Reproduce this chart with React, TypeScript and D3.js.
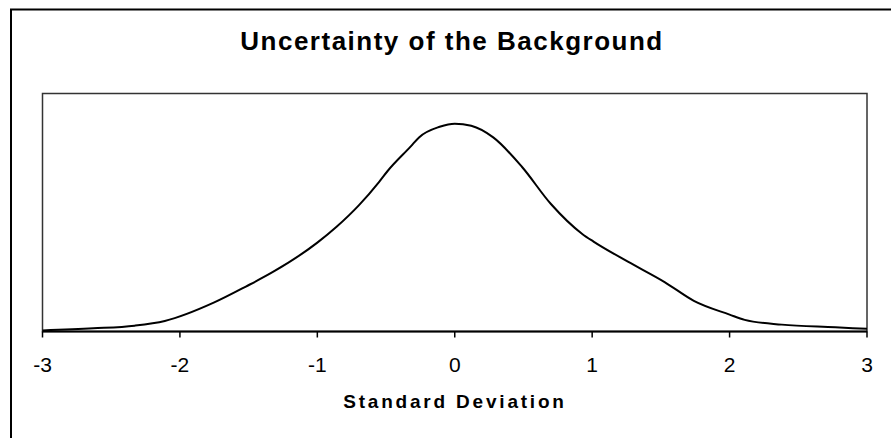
import React from "react";
import * as d3 from "d3";

const title = "Uncertainty of the Background";
const xAxisTitle = "Standard Deviation";
const xTicks = [-3, -2, -1, 0, 1, 2, 3];

// standard deviation positions and relative frequency values
const sd = [-3, -2.63, -2.33, -2.11, -1.75, -1.52, -1.32, -1.0, -0.86, -0.7, -0.55, -0.49, -0.32, -0.26, -0.11, 0, 0.12, 0.28, 0.49, 0.7, 0.93, 1.01, 1.26, 1.53, 1.74, 2.0, 2.11, 2.38, 2.77, 3.0];
const freq = [0.002, 0.006, 0.011, 0.020, 0.055, 0.085, 0.113, 0.168, 0.198, 0.238, 0.283, 0.303, 0.350, 0.367, 0.387, 0.393, 0.389, 0.367, 0.311, 0.241, 0.184, 0.170, 0.132, 0.093, 0.058, 0.032, 0.022, 0.013, 0.008, 0.005];

const W = 891;
const H = 438;
const plot = { left: 42.5, right: 867, top: 93.5, bottom: 331.5 };

export default function App() {
  const x = d3.scaleLinear().domain([-3, 3]).range([plot.left, plot.right]);
  const y = d3.scaleLinear().domain([0, 0.45]).range([plot.bottom, plot.top]);
  const pts = sd.map((v, i) => [v, freq[i]] as [number, number]);
  const line = d3
    .line<[number, number]>()
    .x((d) => x(d[0]))
    .y((d) => y(d[1]))
    .curve(d3.curveMonotoneX);

  const font = "'Liberation Sans', Arial, Helvetica, sans-serif";

  return (
    <svg
      width={W}
      height={H}
      style={{ position: "absolute", left: 0, top: 0, background: "#fff" }}
    >
      <rect x={0} y={0} width={W} height={H} fill="#fff" />
      {/* outer chart border */}
      <rect x={11} y={9.5} width={900} height={450} fill="none" stroke="#000" strokeWidth={2} />
      {/* plot frame */}
      <rect
        x={plot.left}
        y={plot.top}
        width={plot.right - plot.left}
        height={plot.bottom - plot.top}
        fill="none"
        stroke="#333"
        strokeWidth={1.5}
      />
      {/* x axis */}
      <line x1={plot.left} x2={plot.right} y1={plot.bottom} y2={plot.bottom} stroke="#000" strokeWidth={2} />
      {xTicks.map((t) => (
        <g key={t}>
          <line x1={x(t)} x2={x(t)} y1={plot.bottom} y2={plot.bottom + 6} stroke="#000" strokeWidth={1.5} />
          <text
            x={x(t)}
            y={372}
            textAnchor="middle"
            fontFamily={font}
            fontSize={21}
            fill="#000"
          >
            {t}
          </text>
        </g>
      ))}
      <path d={line(pts) || ""} fill="none" stroke="#000" strokeWidth={2} strokeLinejoin="round" />
      <text
        x={452}
        y={50}
        textAnchor="middle"
        fontFamily={font}
        fontWeight="bold"
        fontSize={26}
        letterSpacing={1.5}
        fill="#000"
      >
        {title}
      </text>
      <text
        x={455}
        y={408}
        textAnchor="middle"
        fontFamily={font}
        fontWeight="bold"
        fontSize={19}
        letterSpacing={2.8}
        fill="#000"
      >
        {xAxisTitle}
      </text>
    </svg>
  );
}
